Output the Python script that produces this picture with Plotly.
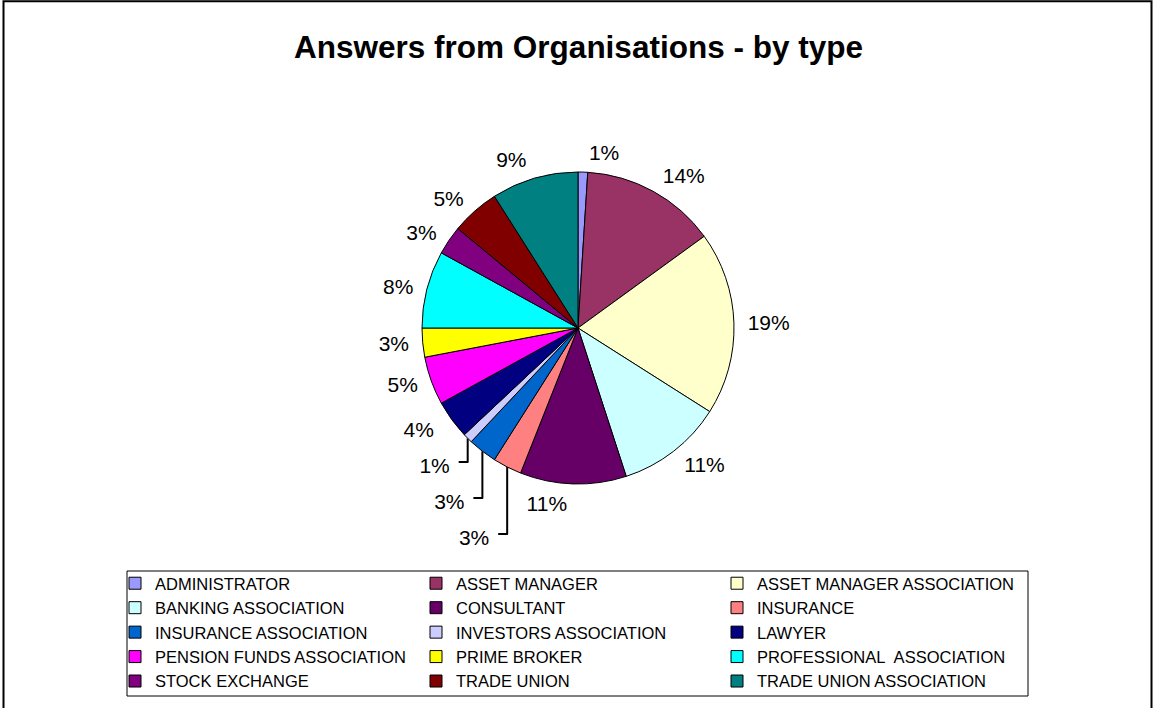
import plotly.graph_objects as go

W, H = 1154, 708

categories = [
    "ADMINISTRATOR", "ASSET MANAGER", "ASSET MANAGER ASSOCIATION",
    "BANKING ASSOCIATION", "CONSULTANT", "INSURANCE",
    "INSURANCE ASSOCIATION", "INVESTORS ASSOCIATION", "LAWYER",
    "PENSION FUNDS ASSOCIATION", "PRIME BROKER", "PROFESSIONAL\u00a0 ASSOCIATION",
    "STOCK EXCHANGE", "TRADE UNION", "TRADE UNION ASSOCIATION",
]
shares = [1, 14, 19, 11, 11, 3, 3, 1, 4, 5, 3, 8, 3, 5, 9]
colors = [
    "#9999FF", "#993366", "#FFFFCC", "#CCFFFF", "#660066", "#FF8080",
    "#0066CC", "#CCCCFF", "#000080", "#FF00FF", "#FFFF00", "#00FFFF",
    "#800080", "#800000", "#008080",
]
title_text = "Answers from Organisations - by type"

# slices whose labels are stacked with leader lines in the original
leader_slices = ["INSURANCE", "INSURANCE ASSOCIATION", "INVESTORS ASSOCIATION", "LAWYER"]
# label drawn on its own so it is not pushed by its neighbours
solo_slices = ["ADMINISTRATOR"]

FONT = "Liberation Sans, Arial, sans-serif"


def px(x):
    return x / W


def py(y):
    return 1 - y / H


cx, cy, r = 578, 328, 156
r_lab = 164


def dom(rad):
    return dict(x=[px(cx - rad), px(cx + rad)], y=[py(cy + rad), py(cy - rad)])


clear = ["rgba(0,0,0,0)"] * len(shares)


def label_trace(rad, members, template):
    return go.Pie(
        labels=categories,
        values=shares,
        sort=False,
        direction="clockwise",
        rotation=0,
        marker=dict(colors=clear, line=dict(width=0)),
        textposition=["outside" if m else "none" for m in members],
        texttemplate=template,
        outsidetextfont=dict(family=FONT, size=21, color="black"),
        domain=dom(rad),
        showlegend=False,
        hoverinfo="skip",
    )


in_leader = [c in leader_slices for c in categories]
in_solo = [c in solo_slices for c in categories]
in_main = [not (a or b) for a, b in zip(in_leader, in_solo)]

labels_main = label_trace(r_lab, in_main, "%{percent:.0%}")
labels_solo = label_trace(r_lab, in_solo, "%{percent:.0%}")
# taller label boxes so the stacked labels spread out like the original
labels_leader = label_trace(
    r, in_leader, "%{percent:.0%}<span style='font-size:32px'>\u00a0</span>"
)

main_pie = go.Pie(
    labels=categories,
    values=shares,
    sort=False,
    direction="clockwise",
    rotation=0,
    marker=dict(colors=colors, line=dict(color="black", width=1)),
    textinfo="none",
    domain=dom(r),
    hoverinfo="label+percent",
)

fig = go.Figure([labels_main, labels_solo, labels_leader, main_pie])

fig.update_layout(
    width=W, height=H,
    margin=dict(l=0, r=0, t=0, b=0),
    paper_bgcolor="white",
    plot_bgcolor="white",
    font=dict(family=FONT, color="black"),
    title=dict(
        text="<b>" + title_text + "</b>",
        font=dict(family=FONT, size=31.5, color="black"),
        x=px(578.5), xanchor="center",
        y=py(47), yanchor="middle", yref="container",
    ),
    showlegend=True,
    legend=dict(
        orientation="h",
        x=px(115), xanchor="left",
        y=py(566), yanchor="top",
        entrywidth=256, entrywidthmode="pixels",
        font=dict(family=FONT, size=16.5, color="black"),
        bgcolor="rgba(0,0,0,0)",
        borderwidth=0,
        traceorder="normal",
    ),
    shapes=[
        dict(type="rect", xref="paper", yref="paper",
             x0=px(127), x1=px(1028), y0=py(696), y1=py(571),
             line=dict(color="black", width=1), fillcolor="rgba(0,0,0,0)", layer="below"),
        dict(type="rect", xref="paper", yref="paper",
             x0=px(3.5), x1=px(1151.5), y0=py(712), y1=py(1.2),
             line=dict(color="black", width=2), fillcolor="rgba(0,0,0,0)", layer="below"),
    ],
)

fig.write_html(
    "out.html",
    config={"displayModeBar": False},
    post_script="document.body.style.margin='0';",
)
